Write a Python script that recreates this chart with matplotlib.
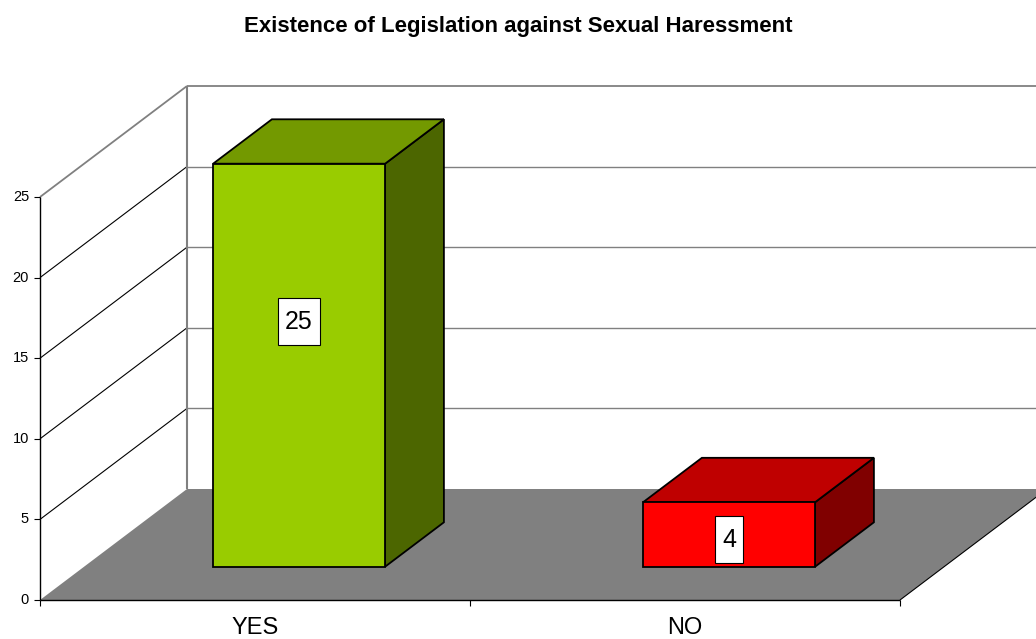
import matplotlib
matplotlib.use("Agg")
import matplotlib.pyplot as plt
from matplotlib.patches import Polygon
from matplotlib.path import Path

# data
categories = ["YES", "NO"]
values = [25, 4]
front_colors = ["#99CC00", "#FF0000"]
top_colors = ["#739900", "#BF0000"]
side_colors = ["#4C6600", "#800000"]
y_ticks = [0, 5, 10, 15, 20, 25]
title = "Existence of Legislation against Sexual Haressment"

plt.rcParams['font.family'] = ['Liberation Sans', 'DejaVu Sans']

W, H = 1036, 639
fig = plt.figure(figsize=(W / 100, H / 100), dpi=100)
ax = fig.add_axes([0, 0, 1, 1])
ax.set_axis_off()

# pixel scale of the pseudo-3d box
px_cat = 430.0      # pixels per category
px_val = 16.12      # pixels per value unit
x0_px, y0_px = 40, 600
DX = 147 / px_cat   # full depth shift, in category units
DY = 111 / px_val   # full depth shift, in value units
ymax = y_ticks[-1]
ncat = len(categories)

ax.set_xlim(-x0_px / px_cat, (W - x0_px) / px_cat)
ax.set_ylim(-(H - y0_px) / px_val, y0_px / px_val)


def proj(x, v, d):
    return (x + d * DX, v + d * DY)


def poly(pts, fc, ec="none", lw=0, z=1):
    ax.add_patch(Polygon(pts, closed=True, facecolor=fc, edgecolor=ec,
                         linewidth=lw, zorder=z, joinstyle="miter"))


def line(p, q, color="black", lw=0.8, z=2):
    ax.plot([p[0], q[0]], [p[1], q[1]], color=color, lw=lw, zorder=z,
            solid_capstyle="butt")


# floor
poly([proj(0, 0, 0), proj(ncat, 0, 0), proj(ncat, 0, 1), proj(0, 0, 1)],
     "#808080", z=1)
line(proj(ncat, 0, 0), proj(ncat, 0, 1), "black", 0.8)

# back wall + left wall grid
for v in y_ticks[1:]:
    c = "#808080" if v == ymax else "black"
    line(proj(0, v, 1), proj(ncat + 1, v, 1), "#808080", 1.0 if v < ymax else 1.3)
    line(proj(0, v, 0), proj(0, v, 1), c, 0.8 if v < ymax else 1.3)
line(proj(0, 0, 1), proj(0, ymax, 1), "#808080", 1.5)

# front axis
line(proj(0, 0, 0), proj(0, ymax, 0), "black", 1.0, z=3)
line(proj(0, 0, 0), proj(ncat, 0, 0), "black", 1.0, z=3)
tick_x = 6 / px_cat
tick_v = 6 / px_val
for v in y_ticks:
    line((-tick_x, v), (0, v), "black", 0.8, z=3)
    ax.text(-11 / px_cat, v, str(v), ha="right", va="center", fontsize=10.5)
for i in range(ncat + 1):
    line((i, 0), (i, -tick_v), "black", 0.8, z=3)
for i, name in enumerate(categories):
    ax.text(i + 0.5, -28 / px_val, name, ha="center", va="center", fontsize=17)


# tall label box
def tall_box(x0, y0, width, height, mutation_size):
    padx = 0.28 * mutation_size
    pady = 0.46 * mutation_size
    x0, y0 = x0 - padx, y0 - pady
    x1, y1 = x0 + width + 2 * padx, y0 + height + 2 * pady
    return Path([(x0, y0), (x1, y0), (x1, y1), (x0, y1), (x0, y0)], closed=True)


# bars
d0, d1 = 0.3, 0.7
half = 0.2
for i, v in enumerate(values):
    xl, xr = i + 0.5 - half, i + 0.5 + half
    ek = dict(ec="black", lw=1.3, z=5)
    poly([proj(xr, 0, d0), proj(xr, 0, d1), proj(xr, v, d1), proj(xr, v, d0)],
         side_colors[i], **ek)
    poly([proj(xl, v, d0), proj(xr, v, d0), proj(xr, v, d1), proj(xl, v, d1)],
         top_colors[i], **ek)
    poly([proj(xl, 0, d0), proj(xr, 0, d0), proj(xr, v, d0), proj(xl, v, d0)],
         front_colors[i], **ek)
    lx, ly = proj(i + 0.5, 0.644 * v - 0.9, d0)
    ax.text(lx, ly, str(v), ha="center", va="center", fontsize=18, zorder=7,
            bbox=dict(boxstyle=tall_box, fc="white", ec="black", lw=0.8))

fig.text(0.5, 1 - 32 / H, title, ha="center", va="baseline",
         fontsize=16, fontweight="bold")

fig.savefig("out.png", dpi=100)
